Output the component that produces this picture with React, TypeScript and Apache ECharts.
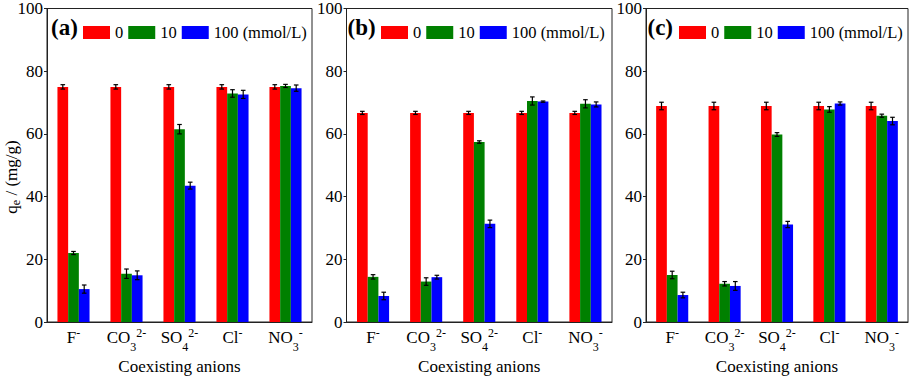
import React, { useEffect, useRef } from "react";
import * as echarts from "echarts";

const categories = ["F-", "CO3 2-", "SO4 2-", "Cl-", "NO3-"];
const categoryLabels = [
  "{n|F}{sup|-}",
  "{n|CO}{sub|3}{sup|2-}",
  "{n|SO}{sub|4}{sup|2-}",
  "{n|Cl}{sup|-}",
  "{n|NO}{sub|3}{sup|-}",
];
const seriesNames = ["0", "10", "100 (mmol/L)"];
const seriesColors = ["#FF0000", "#008000", "#0000FF"];
const panelLabels = ["(a)", "(b)", "(c)"];
const yTicks = [0, 20, 40, 60, 80, 100];

// panel (a)
const a0 = [75.0, 75.0, 75.0, 75.0, 75.0];
const a0Err = [0.7, 0.7, 0.7, 0.7, 0.7];
const a10 = [22.0, 15.4, 61.5, 72.9, 75.3];
const a10Err = [0.5, 1.5, 1.5, 1.2, 0.5];
const a100 = [10.5, 14.9, 43.5, 72.6, 74.6];
const a100Err = [1.3, 1.4, 1.1, 1.3, 1.0];

// panel (b)
const b0 = [66.7, 66.7, 66.7, 66.7, 66.7];
const b0Err = [0.5, 0.5, 0.5, 0.5, 0.5];
const b10 = [14.4, 12.9, 57.4, 70.5, 69.6];
const b10Err = [0.7, 1.2, 0.4, 1.3, 1.3];
const b100 = [8.3, 14.3, 31.3, 70.3, 69.4];
const b100Err = [1.2, 0.6, 1.2, 0.2, 0.8];

// panel (c)
const c0 = [68.9, 68.9, 68.9, 68.9, 68.9];
const c0Err = [1.2, 1.2, 1.2, 1.2, 1.2];
const c10 = [15.0, 12.2, 59.8, 67.8, 65.8];
const c10Err = [1.2, 0.7, 0.6, 0.9, 0.5];
const c100 = [8.6, 11.5, 31.1, 69.7, 64.1];
const c100Err = [0.9, 1.4, 1.0, 0.5, 1.2];

const panels = [
  { values: [a0, a10, a100], errors: [a0Err, a10Err, a100Err] },
  { values: [b0, b10, b100], errors: [b0Err, b10Err, b100Err] },
  { values: [c0, c10, c100], errors: [c0Err, c10Err, c100Err] },
];

const FONT = "Liberation Serif, Times New Roman, serif";
const AXIS_COLOR = "#222";

// layout
const gridLefts = [47, 346.5, 646];
const gridWidths = [265, 265.5, 262];
const gridTop = 7;
const gridHeight = 315;
const legendLefts = [83, 381, 679];
const panelLabelX = [51, 347.5, 647.5];
const BAR_W = 10.7;

export default function App() {
  const ref = useRef<HTMLDivElement>(null);

  useEffect(() => {
    if (!ref.current) return;
    const chart = echarts.init(ref.current, undefined, { renderer: "svg" });

    const grid: any[] = [];
    const xAxis: any[] = [];
    const yAxis: any[] = [];
    const legend: any[] = [];
    const series: any[] = [];
    const graphic: any[] = [];

    // token centre = line top + height / 2 (verticalAlign top)
    const rich = {
      n: { fontSize: 17, fontFamily: FONT, color: "#000", height: 18, lineHeight: 18, verticalAlign: "top" },
      sup: { fontSize: 12, fontFamily: FONT, color: "#000", height: 10, lineHeight: 18, verticalAlign: "top" },
      sub: { fontSize: 12, fontFamily: FONT, color: "#000", height: 38, lineHeight: 18, verticalAlign: "top" },
    };

    panels.forEach((p, pi) => {
      grid.push({
        left: gridLefts[pi],
        top: gridTop,
        width: gridWidths[pi],
        height: gridHeight,
        show: true,
        borderColor: AXIS_COLOR,
        borderWidth: 1,
        backgroundColor: "transparent",
      });
      xAxis.push({
        type: "category",
        gridIndex: pi,
        data: categories,
        axisLine: { lineStyle: { color: AXIS_COLOR, width: 1 } },
        axisTick: { show: false },
        axisLabel: {
          interval: 0,
          margin: 6,
          formatter: (_v: string, idx: number) => categoryLabels[idx],
          rich,
        },
      });
      yAxis.push({
        type: "value",
        gridIndex: pi,
        min: 0,
        max: 100,
        interval: 20,
        splitLine: { show: false },
        axisLine: { show: true, lineStyle: { color: AXIS_COLOR, width: 1 } },
        axisTick: { show: true, inside: false, length: 3, lineStyle: { color: AXIS_COLOR } },
        axisLabel: {
          margin: 4,
          color: "#000",
          fontSize: 17,
          fontFamily: FONT,
          formatter: (v: number) => (yTicks.includes(v) ? String(v) : ""),
        },
      });
      legend.push({
        data: seriesNames,
        left: legendLefts[pi],
        top: 24,
        padding: 0,
        itemWidth: 27,
        itemHeight: 13,
        itemGap: 5,
        icon: "rect",
        selectedMode: false,
        textStyle: { fontSize: 16.5, fontFamily: FONT, color: "#000" },
      });

      p.values.forEach((vals, si) => {
        series.push({
          type: "bar",
          name: seriesNames[si],
          xAxisIndex: pi,
          yAxisIndex: pi,
          barWidth: BAR_W,
          barGap: "0%",
          data: vals,
          itemStyle: { color: seriesColors[si] },
          z: 2,
        });
      });
      p.values.forEach((vals, si) => {
        const offset = (si - 1) * BAR_W;
        series.push({
          type: "custom",
          xAxisIndex: pi,
          yAxisIndex: pi,
          z: 5,
          data: vals.map((v, i) => [i, v, p.errors[si][i]]),
          encode: { x: 0, y: 1 },
          renderItem: (_params: any, api: any) => {
            const ci = api.value(0);
            const v = api.value(1);
            const e = api.value(2);
            const top = api.coord([ci, v + e]);
            const bot = api.coord([ci, v - e]);
            const x = top[0] + offset;
            const hw = 2.3;
            const st = { stroke: "#000", lineWidth: 1.2 };
            return {
              type: "group",
              children: [
                { type: "line", shape: { x1: x, y1: top[1], x2: x, y2: bot[1] }, style: st },
                { type: "line", shape: { x1: x - hw, y1: top[1], x2: x + hw, y2: top[1] }, style: st },
                { type: "line", shape: { x1: x - hw, y1: bot[1], x2: x + hw, y2: bot[1] }, style: st },
              ],
            };
          },
        });
      });

      graphic.push({
        type: "text",
        x: panelLabelX[pi],
        y: 27,
        style: {
          text: panelLabels[pi],
          fontSize: 23,
          fontWeight: "bold",
          fontFamily: FONT,
          fill: "#000",
          align: "left",
          verticalAlign: "middle",
        },
      });
      graphic.push({
        type: "text",
        x: gridLefts[pi] + gridWidths[pi] / 2,
        y: 366,
        style: {
          text: "Coexisting anions",
          fontSize: 17,
          fontFamily: FONT,
          fill: "#000",
          align: "center",
          verticalAlign: "middle",
        },
      });
    });

    graphic.push({
      type: "text",
      x: 11,
      y: 177,
      rotation: Math.PI / 2,
      style: {
        text: "{q|q}{e|e}{t| / (mg/g)}",
        align: "center",
        verticalAlign: "middle",
        rich: {
          q: { fontSize: 17, fontFamily: FONT, fill: "#000", height: 18, lineHeight: 18, verticalAlign: "top" },
          e: { fontSize: 12, fontFamily: FONT, fill: "#000", height: 28, lineHeight: 18, verticalAlign: "top" },
          t: { fontSize: 17, fontFamily: FONT, fill: "#000", height: 18, lineHeight: 18, verticalAlign: "top" },
        },
      },
    });

    chart.setOption({
      animation: false,
      backgroundColor: "#fff",
      grid,
      xAxis,
      yAxis,
      legend,
      series,
      graphic,
    });

    return () => chart.dispose();
  }, []);

  return (
    <div
      ref={ref}
      style={{ position: "fixed", left: 0, top: 0, width: 910, height: 376 }}
    />
  );
}
